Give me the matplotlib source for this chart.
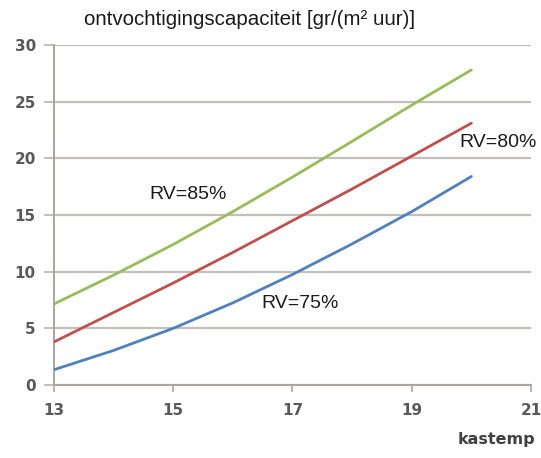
import matplotlib
matplotlib.use("Agg")
import matplotlib.pyplot as plt

kastemp = [13, 14, 15, 16, 17, 18, 19, 20]
rv85 = [7.15, 9.7, 12.4, 15.3, 18.35, 21.5, 24.7, 27.8]
rv80 = [3.8, 6.4, 9.0, 11.7, 14.5, 17.3, 20.2, 23.1]
rv75 = [1.35, 3.05, 5.0, 7.25, 9.75, 12.45, 15.3, 18.4]
x_ticks = [13, 15, 17, 19, 21]
y_ticks = [0, 5, 10, 15, 20, 25, 30]

txtfont = 'Liberation Sans'

fig = plt.figure(figsize=(5.41, 4.58), dpi=100)
ax = fig.add_axes([0.0998, 0.1594, 0.8817, 0.7423])

ax.plot(kastemp, rv85, color='#9bbb59', lw=2.0, solid_capstyle='round', zorder=3)
ax.plot(kastemp, rv80, color='#c0504d', lw=2.0, solid_capstyle='round', zorder=3)
ax.plot(kastemp, rv75, color='#4f81bd', lw=2.0, solid_capstyle='round', zorder=3)

ax.set_xlim(13, 21)
ax.set_ylim(0, 30)
ax.set_xticks(x_ticks)
ax.set_yticks(y_ticks)
ax.yaxis.grid(True, color='#c4bfbb', lw=1.6)
ax.set_axisbelow(True)
for s in ['top', 'right']:
    ax.spines[s].set_visible(False)
for s in ['left', 'bottom']:
    ax.spines[s].set_color('#aaa5a1')
    ax.spines[s].set_linewidth(1.4)
ax.tick_params(axis='y', length=7, width=1.4, color='#c4bfbb', pad=6,
               labelsize=11, labelcolor='#595959')
ax.tick_params(axis='x', length=5, width=1.2, color='#aaa5a1', pad=8,
               labelsize=11, labelcolor='#595959')
for lab in ax.get_xticklabels() + ax.get_yticklabels():
    lab.set_fontweight('bold')
    lab.set_family('DejaVu Sans')

fig.text(0.155, 0.958, 'ontvochtigingscapaciteit [gr/(m² uur)]', fontsize=14.8,
         family=txtfont, color='#1a1a1a', va='center', ha='left')
fig.text(0.99, 0.04, 'kastemp', fontsize=11.5, fontweight='bold',
         color='#404040', ha='right', va='center')

ax.text(15.25, 16.8, 'RV=85%', fontsize=14, family=txtfont, color='#1a1a1a',
        ha='center', va='center')
ax.text(17.13, 7.2, 'RV=75%', fontsize=14, family=txtfont, color='#1a1a1a',
        ha='center', va='center')
ax.text(20.45, 21.4, 'RV=80%', fontsize=14, family=txtfont, color='#1a1a1a',
        ha='center', va='center')

fig.savefig('out.png', dpi=100)
